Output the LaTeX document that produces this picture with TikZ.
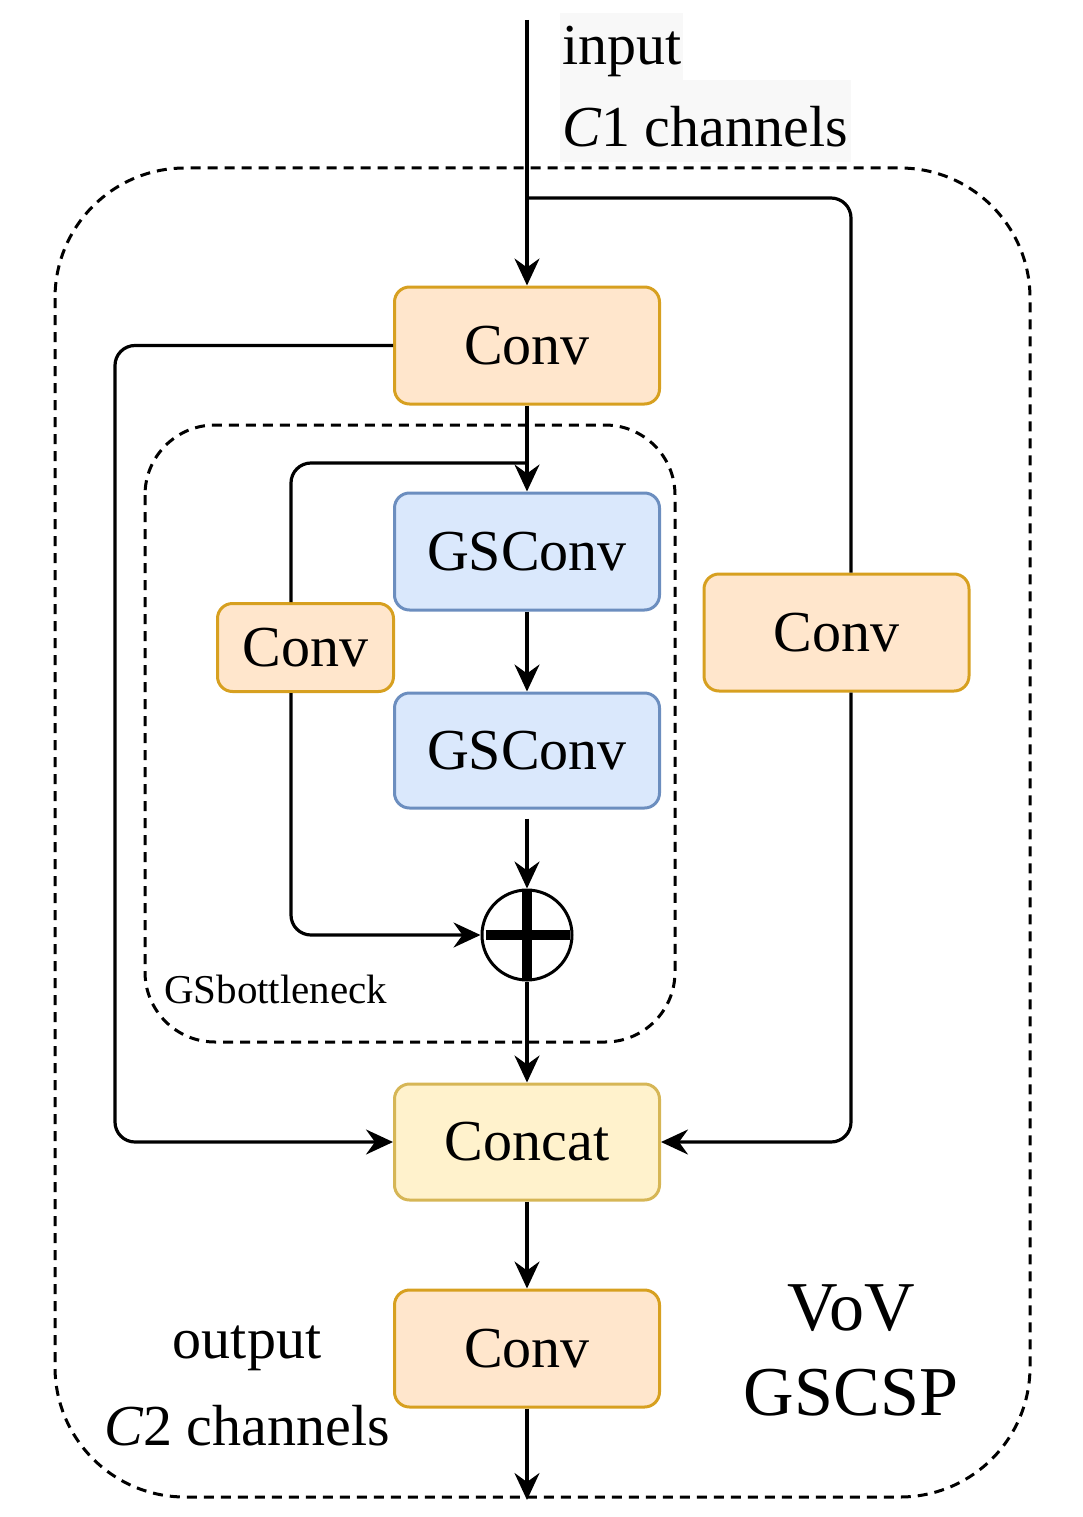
\documentclass[tikz,border=0pt]{standalone}
\usepackage{fontspec}
\setmainfont{Liberation Serif}
\usetikzlibrary{arrows.meta,calc}
\definecolor{orfill}{HTML}{FFE6CC}
\definecolor{orline}{HTML}{D7A020}
\definecolor{blfill}{HTML}{DAE8FC}
\definecolor{blline}{HTML}{6C8EBF}
\definecolor{yefill}{HTML}{FFF2CC}
\definecolor{yeline}{HTML}{D6B656}
\definecolor{bggray}{HTML}{F8F8F8}
\newcommand{\lblfont}{\fontsize{58}{70}\selectfont}
\newcommand{\bigfont}{\fontsize{70}{84}\selectfont}
\newcommand{\smallfont}{\fontsize{41}{50}\selectfont}
\begin{document}
\begin{tikzpicture}[x=1pt,y=-1pt,
  box/.style={draw, line width=3pt, rounded corners=15pt, minimum width=265pt, minimum height=117pt, font=\lblfont, inner sep=0pt},
  convbox/.style={box, draw=orline, fill=orfill},
  gsbox/.style={box, draw=blline, fill=blfill},
  catbox/.style={box, draw=yeline, fill=yefill},
  conn/.style={line width=3.2pt, rounded corners=20pt},
  arr/.style={conn, -{Stealth[length=27pt,width=25pt,inset=9pt]}},
  dashbox/.style={draw, line width=3pt, dash pattern=on 10pt off 7pt},
  lbl/.style={inner sep=0pt, font=\lblfont}]
\useasboundingbox (0,0) rectangle (1082,1517);
% dashed containers
\draw[dashbox, rounded corners=130pt] (55,168) rectangle (1030,1497);
\draw[dashbox, rounded corners=70pt] (145,425) rectangle (675,1042);
% text backgrounds
\fill[bggray] (560,13) rectangle (683,80);
\fill[bggray] (560,80) rectangle (851,162);
% boxes
\node[convbox] (conv1) at (527,345.5) {Conv};
\node[gsbox] (gs1) at (527,551.5) {GSConv};
\node[gsbox, minimum height=115pt] (gs2) at (527,750.5) {GSConv};
\node[convbox, minimum width=176pt, minimum height=88pt] (convS) at (305.5,647.5) {Conv};
\node[convbox] (convR) at (836.5,632.5) {Conv};
\node[catbox, minimum height=116pt] (concat) at (527,1142) {Concat};
\node[convbox] (conv2) at (527,1348.5) {Conv};
\node[draw, circle, line width=3pt, minimum size=90pt, inner sep=0pt, fill=white] (plus) at (527,935) {};
\draw[line width=10pt, shorten <=1.5pt, shorten >=1.5pt] (plus.north) -- (plus.south);
\draw[line width=10pt, shorten <=5pt, shorten >=4pt] (plus.west) -- (plus.east);
% labels
\node[lbl, anchor=base west] (tin) at (562,65) {input};
\node[lbl, anchor=base west] (tc1) at (562,147) {\textit{C}1 channels};
\node[lbl, anchor=base] (tout) at (247,1358) {output};
\node[lbl, anchor=base] (tc2) at (247,1445) {\textit{C}2 channels};
\node[inner sep=0pt, font=\bigfont, anchor=base] (tvov) at (851,1330) {VoV};
\node[inner sep=0pt, font=\bigfont, anchor=base] (tgscsp) at (851,1415) {GSCSP};
\node[inner sep=0pt, font=\smallfont, anchor=base west] (tgsb) at (164,1003) {GSbottleneck};
% coordinates
\coordinate (in) at (527,20);
\coordinate (split1) at (527,198);
\coordinate (rx) at (851,0);
\coordinate (lx) at (115,0);
\coordinate (split2) at (527,463);
\coordinate (sx) at (291,0);
\coordinate (out) at (527,1500);
% connectors
\draw[arr] (in) -- (conv1.north);
\draw[conn] (split1) -| (convR.north -| rx);
\draw[arr] (convR.south -| rx) |- (concat.east);
\draw[arr] (conv1.west) -| (lx |- concat.west) -- (concat.west);
\draw[arr] (conv1.south) -- (gs1.north);
\draw[conn] (split2) -| (convS.north -| sx);
\draw[arr] (convS.south -| sx) |- (plus.west);
\draw[arr] (gs1.south) -- (gs2.north);
\draw[arr, shorten <=9pt] (gs2.south) -- (plus.north);
\draw[arr] (plus.south) -- (concat.north);
\draw[arr] (concat.south) -- (conv2.north);
\draw[arr] (conv2.south) -- (out);
\end{tikzpicture}
\end{document}
